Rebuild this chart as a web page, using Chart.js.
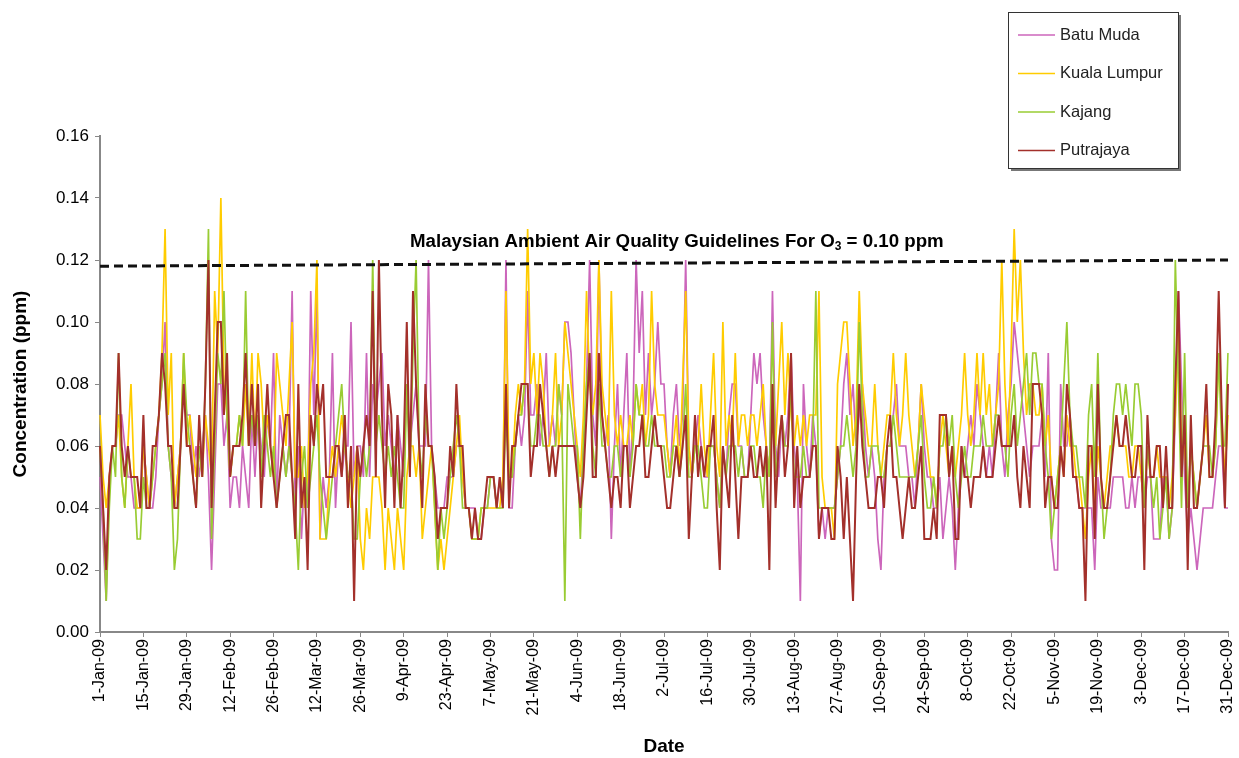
<!DOCTYPE html>
<html>
<head>
<meta charset="utf-8">
<title>O3 2009</title>
<script src="https://cdn.jsdelivr.net/npm/chart.js@4.4.1/dist/chart.umd.min.js"></script>
<style>
  html, body { margin: 0; padding: 0; background: #fff; }
  #caixa { width: 1239px; height: 758px; position: relative; }
</style>
</head>
<body>
<div id="caixa"><canvas id="grafico-o3"></canvas></div>
<script>
// Concentracao diaria de O3 (ppm), 1-Jan-09 a 31-Dec-09, uma linha por mes
const batuMuda = [
  0.05,0.03,0.01,0.05,0.06,0.06,0.07,0.07,0.06,0.05,0.05,0.04,0.04,0.04,0.06,0.05,0.04,0.04,0.05,0.07,0.08,0.10,0.06,0.05,0.04,0.05,0.06,0.08,0.07,0.07,0.05,
  0.06,0.05,0.06,0.07,0.05,0.02,0.05,0.08,0.08,0.06,0.07,0.04,0.05,0.05,0.04,0.06,0.05,0.04,0.07,0.05,0.07,0.06,0.05,0.07,0.06,0.09,0.04,0.07,
  0.06,0.05,0.06,0.11,0.04,0.06,0.03,0.05,0.04,0.11,0.07,0.11,0.03,0.05,0.04,0.05,0.09,0.04,0.06,0.05,0.06,0.06,0.10,0.05,0.06,0.06,0.05,0.09,0.05,0.08,0.07,
  0.08,0.09,0.06,0.07,0.06,0.05,0.07,0.06,0.05,0.08,0.06,0.07,0.08,0.06,0.06,0.06,0.12,0.06,0.05,0.04,0.04,0.04,0.05,0.05,0.05,0.06,0.06,0.05,0.04,0.04,
  0.04,0.04,0.03,0.03,0.04,0.04,0.05,0.05,0.04,0.05,0.04,0.12,0.04,0.04,0.06,0.07,0.06,0.07,0.11,0.07,0.07,0.08,0.06,0.07,0.09,0.06,0.07,0.06,0.08,0.07,0.10,
  0.10,0.09,0.07,0.05,0.04,0.06,0.08,0.12,0.07,0.06,0.12,0.07,0.06,0.07,0.03,0.06,0.08,0.05,0.07,0.09,0.05,0.07,0.12,0.09,0.11,0.07,0.09,0.07,0.08,0.10,
  0.08,0.08,0.06,0.05,0.07,0.08,0.06,0.07,0.12,0.06,0.05,0.06,0.07,0.06,0.05,0.05,0.06,0.06,0.05,0.04,0.06,0.05,0.07,0.08,0.08,0.06,0.06,0.05,0.05,0.07,0.09,
  0.08,0.09,0.07,0.06,0.05,0.11,0.06,0.05,0.07,0.06,0.07,0.09,0.06,0.05,0.01,0.08,0.06,0.05,0.07,0.06,0.03,0.04,0.03,0.04,0.04,0.04,0.05,0.06,0.08,0.09,0.07,
  0.08,0.06,0.07,0.08,0.06,0.05,0.06,0.05,0.03,0.02,0.05,0.06,0.06,0.07,0.08,0.06,0.06,0.06,0.05,0.05,0.04,0.06,0.08,0.06,0.05,0.05,0.04,0.04,0.05,0.03,
  0.04,0.05,0.04,0.02,0.04,0.06,0.05,0.06,0.07,0.06,0.08,0.07,0.06,0.05,0.06,0.05,0.07,0.09,0.06,0.05,0.07,0.08,0.10,0.09,0.08,0.07,0.06,0.05,0.06,0.06,0.06,
  0.07,0.05,0.09,0.03,0.02,0.02,0.08,0.06,0.06,0.07,0.05,0.05,0.04,0.04,0.04,0.04,0.04,0.02,0.05,0.04,0.04,0.04,0.04,0.05,0.05,0.05,0.05,0.04,0.04,0.05,
  0.04,0.05,0.05,0.04,0.05,0.05,0.03,0.03,0.03,0.05,0.05,0.03,0.04,0.07,0.11,0.08,0.05,0.03,0.04,0.03,0.02,0.03,0.04,0.04,0.04,0.04,0.05,0.06,0.06,0.04,0.04
];

const kualaLumpur = [
  0.07,0.05,0.04,0.05,0.06,0.06,0.07,0.05,0.04,0.06,0.08,0.05,0.04,0.04,0.06,0.05,0.04,0.05,0.06,0.07,0.09,0.13,0.07,0.09,0.04,0.05,0.06,0.09,0.06,0.07,0.06,
  0.05,0.06,0.05,0.07,0.06,0.05,0.11,0.09,0.14,0.08,0.07,0.05,0.06,0.06,0.07,0.06,0.08,0.06,0.09,0.06,0.09,0.08,0.06,0.07,0.06,0.05,0.09,0.08,
  0.07,0.06,0.08,0.10,0.05,0.05,0.06,0.04,0.05,0.08,0.09,0.12,0.03,0.03,0.03,0.05,0.06,0.05,0.06,0.07,0.06,0.05,0.04,0.05,0.06,0.03,0.02,0.04,0.03,0.05,0.05,
  0.05,0.04,0.02,0.04,0.03,0.02,0.04,0.03,0.02,0.05,0.06,0.06,0.05,0.06,0.03,0.04,0.05,0.06,0.04,0.02,0.03,0.02,0.03,0.04,0.05,0.06,0.07,0.05,0.04,0.04,
  0.03,0.03,0.03,0.04,0.04,0.04,0.04,0.04,0.04,0.04,0.05,0.11,0.05,0.05,0.07,0.08,0.07,0.08,0.13,0.08,0.09,0.07,0.09,0.08,0.06,0.06,0.07,0.09,0.06,0.07,0.10,
  0.09,0.08,0.07,0.06,0.05,0.07,0.11,0.08,0.07,0.08,0.12,0.08,0.07,0.06,0.11,0.07,0.06,0.07,0.06,0.06,0.07,0.06,0.08,0.07,0.08,0.06,0.07,0.11,0.08,0.07,
  0.07,0.07,0.06,0.05,0.06,0.07,0.05,0.08,0.11,0.06,0.05,0.06,0.06,0.08,0.06,0.05,0.07,0.09,0.06,0.05,0.10,0.06,0.07,0.06,0.09,0.06,0.07,0.07,0.06,0.07,0.07,
  0.06,0.07,0.08,0.06,0.05,0.07,0.06,0.08,0.10,0.07,0.09,0.07,0.06,0.07,0.06,0.07,0.06,0.07,0.07,0.07,0.11,0.05,0.04,0.04,0.04,0.03,0.08,0.09,0.10,0.10,0.08,
  0.06,0.07,0.11,0.08,0.07,0.06,0.06,0.08,0.06,0.05,0.06,0.07,0.07,0.09,0.07,0.06,0.07,0.09,0.07,0.06,0.05,0.06,0.08,0.07,0.06,0.05,0.05,0.04,0.06,0.07,
  0.06,0.05,0.06,0.05,0.06,0.07,0.09,0.07,0.06,0.07,0.09,0.07,0.09,0.07,0.08,0.06,0.07,0.08,0.12,0.08,0.06,0.09,0.13,0.10,0.12,0.09,0.07,0.08,0.08,0.07,0.07,
  0.08,0.06,0.07,0.05,0.04,0.05,0.06,0.05,0.07,0.06,0.06,0.05,0.05,0.04,0.03,0.05,0.06,0.04,0.06,0.05,0.04,0.05,0.06,0.06,0.07,0.06,0.06,0.06,0.05,0.05,
  0.06,0.06,0.05,0.04,0.06,0.05,0.05,0.06,0.05,0.05,0.05,0.04,0.05,0.07,0.10,0.06,0.06,0.04,0.06,0.05,0.04,0.05,0.06,0.07,0.05,0.05,0.06,0.09,0.07,0.05,0.07
];

const kajang = [
  0.06,0.04,0.01,0.04,0.06,0.05,0.09,0.05,0.04,0.06,0.05,0.05,0.03,0.03,0.05,0.04,0.04,0.05,0.06,0.07,0.08,0.09,0.06,0.05,0.02,0.03,0.06,0.09,0.07,0.06,0.05,
  0.04,0.06,0.05,0.08,0.13,0.03,0.06,0.09,0.08,0.11,0.07,0.05,0.06,0.06,0.07,0.06,0.11,0.06,0.07,0.06,0.07,0.05,0.07,0.06,0.05,0.06,0.04,0.05,
  0.06,0.05,0.06,0.05,0.04,0.02,0.05,0.06,0.04,0.05,0.06,0.07,0.05,0.04,0.03,0.04,0.05,0.06,0.07,0.08,0.06,0.05,0.05,0.03,0.03,0.05,0.06,0.05,0.06,0.12,0.06,
  0.07,0.06,0.05,0.06,0.05,0.06,0.05,0.04,0.04,0.08,0.05,0.09,0.12,0.06,0.05,0.07,0.06,0.06,0.04,0.02,0.04,0.03,0.04,0.05,0.06,0.07,0.06,0.04,0.04,0.04,
  0.03,0.03,0.03,0.04,0.04,0.04,0.05,0.05,0.04,0.04,0.04,0.07,0.05,0.05,0.06,0.07,0.07,0.08,0.08,0.06,0.06,0.07,0.07,0.06,0.06,0.05,0.06,0.06,0.08,0.07,0.01,
  0.08,0.07,0.06,0.06,0.03,0.06,0.08,0.09,0.06,0.05,0.08,0.06,0.06,0.05,0.05,0.06,0.06,0.05,0.06,0.06,0.05,0.06,0.08,0.07,0.07,0.06,0.06,0.07,0.06,0.06,
  0.06,0.06,0.05,0.05,0.06,0.06,0.05,0.06,0.08,0.05,0.05,0.06,0.06,0.05,0.04,0.04,0.06,0.06,0.05,0.04,0.06,0.05,0.06,0.06,0.06,0.05,0.06,0.05,0.05,0.06,0.06,
  0.05,0.05,0.04,0.06,0.05,0.10,0.05,0.06,0.07,0.06,0.06,0.08,0.05,0.05,0.05,0.06,0.05,0.05,0.06,0.11,0.04,0.04,0.04,0.04,0.04,0.04,0.05,0.06,0.06,0.07,0.06,
  0.05,0.06,0.10,0.07,0.05,0.05,0.06,0.06,0.06,0.05,0.05,0.06,0.06,0.07,0.06,0.05,0.05,0.05,0.05,0.05,0.05,0.06,0.07,0.05,0.04,0.04,0.05,0.04,0.06,0.06,
  0.07,0.06,0.07,0.05,0.04,0.05,0.06,0.05,0.05,0.06,0.06,0.06,0.07,0.06,0.06,0.06,0.07,0.07,0.06,0.06,0.05,0.07,0.08,0.06,0.07,0.08,0.09,0.07,0.09,0.09,0.08,
  0.08,0.06,0.05,0.03,0.04,0.05,0.06,0.08,0.10,0.07,0.06,0.06,0.05,0.05,0.04,0.07,0.08,0.05,0.09,0.05,0.03,0.04,0.05,0.07,0.08,0.08,0.07,0.08,0.07,0.06,
  0.08,0.08,0.07,0.04,0.06,0.05,0.04,0.05,0.03,0.04,0.05,0.03,0.04,0.12,0.08,0.04,0.09,0.04,0.06,0.05,0.04,0.05,0.06,0.06,0.06,0.05,0.06,0.09,0.06,0.06,0.09
];

const putrajaya = [
  0.06,0.04,0.02,0.05,0.06,0.06,0.09,0.06,0.05,0.06,0.05,0.05,0.05,0.04,0.07,0.04,0.04,0.06,0.06,0.07,0.09,0.08,0.06,0.06,0.04,0.04,0.06,0.08,0.06,0.06,0.05,
  0.04,0.07,0.05,0.08,0.12,0.04,0.07,0.10,0.10,0.07,0.09,0.05,0.06,0.06,0.06,0.07,0.09,0.06,0.08,0.06,0.08,0.04,0.06,0.08,0.06,0.05,0.04,0.05,
  0.06,0.07,0.07,0.05,0.03,0.08,0.04,0.05,0.02,0.07,0.06,0.08,0.07,0.08,0.05,0.05,0.05,0.06,0.06,0.05,0.07,0.04,0.06,0.01,0.06,0.05,0.06,0.07,0.06,0.11,0.05,
  0.12,0.07,0.04,0.08,0.07,0.04,0.07,0.04,0.06,0.10,0.05,0.11,0.08,0.06,0.04,0.08,0.06,0.06,0.05,0.03,0.04,0.04,0.04,0.06,0.05,0.08,0.06,0.06,0.04,0.04,
  0.03,0.04,0.03,0.03,0.04,0.05,0.05,0.05,0.04,0.05,0.04,0.08,0.04,0.06,0.06,0.07,0.08,0.08,0.08,0.05,0.06,0.06,0.08,0.07,0.06,0.05,0.06,0.05,0.06,0.06,0.06,
  0.06,0.06,0.06,0.05,0.04,0.05,0.07,0.09,0.05,0.05,0.09,0.07,0.06,0.05,0.04,0.05,0.05,0.04,0.06,0.06,0.04,0.05,0.06,0.06,0.07,0.05,0.05,0.06,0.07,0.06,
  0.06,0.05,0.04,0.04,0.05,0.06,0.05,0.06,0.07,0.03,0.05,0.07,0.05,0.06,0.05,0.06,0.06,0.07,0.04,0.02,0.06,0.05,0.04,0.07,0.05,0.03,0.05,0.05,0.05,0.06,0.05,
  0.05,0.06,0.05,0.06,0.02,0.08,0.04,0.06,0.07,0.05,0.06,0.09,0.04,0.06,0.04,0.05,0.05,0.05,0.06,0.06,0.03,0.04,0.04,0.04,0.03,0.03,0.06,0.05,0.03,0.05,0.03,
  0.01,0.05,0.08,0.06,0.05,0.04,0.04,0.04,0.05,0.05,0.04,0.06,0.07,0.05,0.05,0.04,0.03,0.04,0.05,0.04,0.04,0.05,0.06,0.03,0.03,0.03,0.04,0.03,0.07,0.07,
  0.07,0.05,0.06,0.03,0.03,0.06,0.05,0.05,0.04,0.05,0.05,0.05,0.06,0.05,0.05,0.05,0.06,0.07,0.06,0.06,0.06,0.06,0.07,0.05,0.04,0.06,0.05,0.04,0.08,0.08,0.08,
  0.07,0.04,0.05,0.05,0.04,0.04,0.06,0.05,0.08,0.07,0.05,0.05,0.04,0.04,0.01,0.06,0.06,0.03,0.08,0.05,0.04,0.04,0.05,0.06,0.07,0.06,0.06,0.07,0.06,0.05,
  0.05,0.06,0.06,0.02,0.07,0.05,0.05,0.06,0.06,0.04,0.06,0.04,0.04,0.08,0.11,0.05,0.07,0.02,0.07,0.04,0.04,0.05,0.06,0.08,0.05,0.05,0.07,0.11,0.07,0.04,0.08
];

// Linha tracejada do limite (ppm) no primeiro e ultimo dia
const limiteInicio = 0.118;
const limiteFim = 0.12;
const limiteTexto = ["Malaysian Ambient Air Quality Guidelines For O", "3", " = 0.10 ppm"];

const nomesEstacoes = ["Batu Muda", "Kuala Lumpur", "Kajang", "Putrajaya"];
const coresEstacoes = ["#cc66bb", "#ffcc00", "#99cc33", "#a3302b"];

const yMin = 0;
const yMax = 0.16;
const yPasso = 0.02;
const intervaloDias = 14;

// Rotulos diarios no formato 1-Jan-09
const meses = ["Jan","Feb","Mar","Apr","May","Jun","Jul","Aug","Sep","Oct","Nov","Dec"];
const datas = [];
for (let d = new Date(Date.UTC(2009, 0, 1)); d.getUTCFullYear() === 2009; d.setUTCDate(d.getUTCDate() + 1)) {
  datas.push(d.getUTCDate() + "-" + meses[d.getUTCMonth()] + "-09");
}

const fonte = "'Liberation Sans', Arial, sans-serif";
const series = [batuMuda, kualaLumpur, kajang, putrajaya];

const datasets = series.map((valores, i) => ({
  label: nomesEstacoes[i],
  data: valores,
  borderColor: coresEstacoes[i],
  backgroundColor: coresEstacoes[i],
  borderWidth: i === 3 ? 2 : 1.7,
  pointRadius: 0,
  tension: 0,
  order: 4 - i
}));

datasets.push({
  label: "limite",
  data: [{ x: datas[0], y: limiteInicio }, { x: datas[datas.length - 1], y: limiteFim }],
  borderColor: "#111",
  borderWidth: 3,
  borderDash: [9, 5],
  pointRadius: 0,
  order: 0
});

// Legenda em caixa e texto do limite
const extras = {
  id: "extras",
  afterDraw(chart) {
    const ctx = chart.ctx;
    ctx.save();

    // texto do limite com subscrito
    ctx.fillStyle = "#000";
    ctx.textBaseline = "alphabetic";
    ctx.font = "bold 18.7px " + fonte;
    let x = 410;
    const yTexto = 247;
    ctx.fillText(limiteTexto[0], x, yTexto);
    x += ctx.measureText(limiteTexto[0]).width;
    ctx.font = "bold 12px " + fonte;
    ctx.fillText(limiteTexto[1], x, yTexto + 3);
    x += ctx.measureText(limiteTexto[1]).width;
    ctx.font = "bold 18.7px " + fonte;
    ctx.fillText(limiteTexto[2], x, yTexto);

    // caixa da legenda
    const bx = 1008, by = 12, bw = 170, bh = 156;
    ctx.fillStyle = "#777";
    ctx.fillRect(bx + 3, by + 3, bw, bh);
    ctx.fillStyle = "#fff";
    ctx.fillRect(bx, by, bw, bh);
    ctx.strokeStyle = "#333";
    ctx.lineWidth = 1;
    ctx.strokeRect(bx + 0.5, by + 0.5, bw, bh);

    ctx.font = "16.5px " + fonte;
    ctx.textBaseline = "middle";
    nomesEstacoes.forEach((nome, i) => {
      const yy = 35 + i * 38.5;
      ctx.strokeStyle = coresEstacoes[i];
      ctx.lineWidth = 1.7;
      ctx.beginPath();
      ctx.moveTo(1018, yy);
      ctx.lineTo(1055, yy);
      ctx.stroke();
      ctx.fillStyle = "#222";
      ctx.fillText(nome, 1060, yy);
    });
    ctx.restore();
  }
};

new Chart(document.getElementById("grafico-o3"), {
  type: "line",
  data: { labels: datas, datasets: datasets },
  plugins: [extras],
  options: {
    responsive: true,
    maintainAspectRatio: false,
    animation: false,
    devicePixelRatio: 1,
    layout: { padding: { left: 0, top: 136, right: 11, bottom: 0 } },
    plugins: {
      legend: { display: false },
      tooltip: { enabled: false }
    },
    scales: {
      x: {
        offset: false,
        grid: { drawOnChartArea: false, drawTicks: true, tickLength: 5, color: "#888" },
        border: { color: "#888", width: 2 },
        ticks: {
          autoSkip: false,
          maxRotation: 90,
          minRotation: 90,
          padding: 2,
          color: "#000",
          font: { family: fonte, size: 16 },
          callback: function (valor, indice) {
            return indice % intervaloDias === 0 ? datas[indice] : null;
          }
        },
        title: {
          display: true,
          text: "Date",
          color: "#000",
          font: { family: fonte, size: 19, weight: "bold" },
          padding: { top: 2, bottom: 0 }
        },
        afterFit: function (escala) {
          escala.height = 126;
          escala.paddingLeft = 0;
          escala.paddingRight = 0;
        }
      },
      y: {
        min: yMin,
        max: yMax,
        grid: { drawOnChartArea: false, drawTicks: true, tickLength: 5, color: "#888" },
        border: { color: "#888", width: 2 },
        ticks: {
          stepSize: yPasso,
          padding: 6,
          color: "#000",
          font: { family: fonte, size: 17 },
          callback: function (valor) { return valor.toFixed(2); }
        },
        title: {
          display: true,
          text: "Concentration (ppm)",
          color: "#000",
          font: { family: fonte, size: 19, weight: "bold" },
          padding: { top: 9, bottom: 4 }
        },
        afterFit: function (escala) {
          escala.width = 100;
          escala.paddingTop = 0;
          escala.paddingBottom = 0;
        }
      }
    }
  }
});
</script>
</body>
</html>
